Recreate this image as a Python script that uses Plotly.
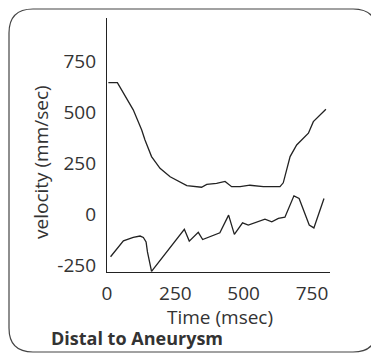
import plotly.graph_objects as go

# Data
time_upper = [5, 38, 96, 127, 139, 163, 194, 231, 292, 346, 365, 401, 432, 456, 487, 523, 572, 633, 645, 670, 694, 737, 755, 779, 801]
vel_upper = [647, 647, 513, 414, 365, 283, 225, 184, 140, 132, 146, 151, 161, 135, 135, 142, 135, 135, 154, 283, 340, 398, 455, 488, 516]

time_lower = [13, 60, 96, 121, 133, 143, 148, 163, 283, 301, 334, 350, 413, 445, 466, 496, 517, 578, 603, 627, 651, 684, 703, 740, 757, 794]
vel_lower = [-210, -132, -115, -108, -115, -137, -186, -282, -75, -133, -90, -125, -92, -5, -100, -43, -54, -25, -38, -21, -15, 90, 77, -54, -68, 77]

x_ticks = [0, 250, 500, 750]
x_tick_labels = ["0", "250", "500", "750"]
y_ticks = [-250, 0, 250, 500, 750]
y_tick_labels = ["-250", "0", "250", "500", "750"]
x_title = "Time (msec)"
y_title = "velocity (mm/sec)"
caption = "Distal to Aneurysm"

W, H = 371, 354
L, R, T, B = 107, 41, 18, 82
PW, PH = W - L - R, H - T - B

def px(x):
    return (x - L) / PW

def py(y):
    return (H - B - y) / PH

line_col = "#222222"
text_col = "#333333"
font_fam = "Open Sans, Lato, sans-serif"

fig = go.Figure()
for t, v in [(time_upper, vel_upper), (time_lower, vel_lower)]:
    fig.add_trace(go.Scatter(x=t, y=v, mode="lines",
                             line=dict(color=line_col, width=1.3),
                             showlegend=False, hoverinfo="skip"))

# rounded frame
x0, x1, y0, y1, r = 9, 377, 9, 352, 24
rx, ry = r / PW, r / PH
path = (f"M {px(x0)},{py(y0)-ry} Q {px(x0)},{py(y0)} {px(x0)+rx},{py(y0)} "
        f"L {px(x1)-rx},{py(y0)} Q {px(x1)},{py(y0)} {px(x1)},{py(y0)-ry} "
        f"L {px(x1)},{py(y1)+ry} Q {px(x1)},{py(y1)} {px(x1)-rx},{py(y1)} "
        f"L {px(x0)+rx},{py(y1)} Q {px(x0)},{py(y1)} {px(x0)},{py(y1)+ry} Z")
fig.add_shape(type="path", path=path, xref="paper", yref="paper",
              line=dict(color="#444444", width=1.2), layer="below")

fig.update_layout(
    width=W, height=H, autosize=False,
    margin=dict(l=L, r=R, t=T, b=B, pad=0),
    paper_bgcolor="white", plot_bgcolor="white",
    font=dict(family=font_fam, color=text_col, size=19),
    xaxis=dict(range=[0, 816], tickvals=x_ticks, ticktext=x_tick_labels,
               showgrid=False, zeroline=False,
               showline=True, linecolor=line_col, linewidth=1.3, ticks="",
               tickfont=dict(size=19, color=text_col), ticklabelstandoff=4),
    yaxis=dict(range=[-285, 965], tickvals=y_ticks, ticktext=y_tick_labels,
               showgrid=False, zeroline=False,
               showline=True, linecolor=line_col, linewidth=1.3, ticks="",
               tickfont=dict(size=19, color=text_col), ticklabelstandoff=6),
    annotations=[
        dict(text=x_title, x=px(220), y=py(317), xref="paper", yref="paper",
             showarrow=False, xanchor="center", yanchor="middle",
             font=dict(size=19, color=text_col)),
        dict(text=y_title, x=px(41), y=py(162), xref="paper", yref="paper",
             showarrow=False, xanchor="center", yanchor="middle", textangle=-90,
             font=dict(size=19, color=text_col)),
        dict(text=f"<b>{caption}</b>", x=px(49), y=py(338), xref="paper", yref="paper",
             showarrow=False, xanchor="left", yanchor="middle",
             font=dict(size=18, color=text_col)),
    ],
)

fig.write_html("out.html", config={"displayModeBar": False},
               post_script="document.body.style.margin='0';document.body.style.overflow='hidden';")
